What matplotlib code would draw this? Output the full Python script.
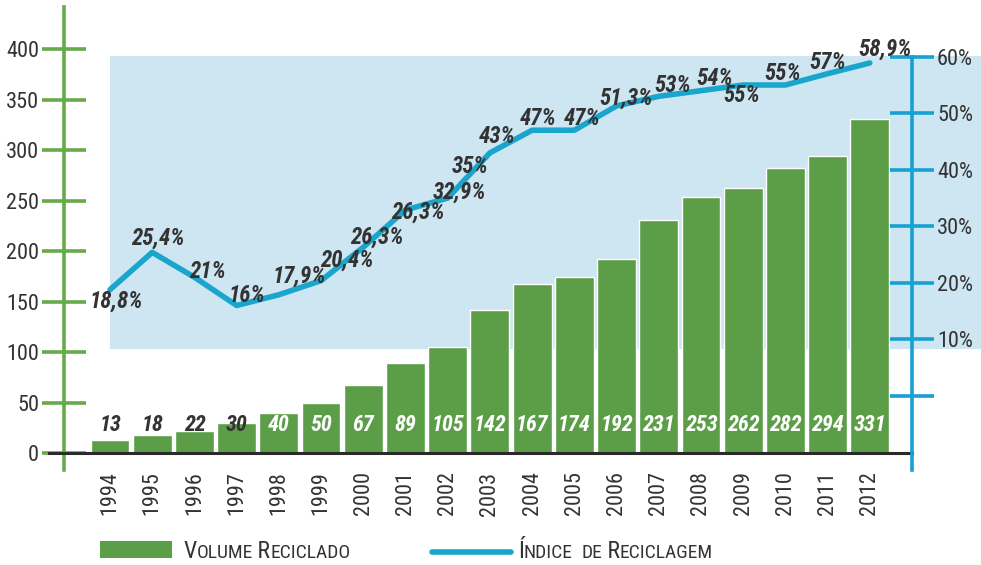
import matplotlib
matplotlib.use("Agg")
import matplotlib.pyplot as plt
from matplotlib.patches import Rectangle
from matplotlib.lines import Line2D
from matplotlib import font_manager
from itertools import groupby

# condensed face if present, otherwise a plain sans
_names = {f.name for f in font_manager.fontManager.ttflist}
FONT = next((n for n in ["Roboto Condensed", "Barlow Condensed", "Archivo Narrow"] if n in _names),
            "DejaVu Sans")
plt.rcParams["font.family"] = [FONT, "DejaVu Sans"]

years = [str(y) for y in range(1994, 2013)]
volume = [13, 18, 22, 30, 40, 50, 67, 89, 105, 142, 167, 174, 192, 231, 253, 262, 282, 294, 331]
index_pct = [18.8, 25.4, 21, 16, 17.9, 20.4, 26.3, 32.9, 35, 43, 47, 47, 51.3, 53, 54, 55, 55, 57, 58.9]

# percentage labels as printed along the line, and the point each one sits next to
pct_labels = ["18,8%", "25,4%", "21%", "16%", "17,9%", "20,4%", "26,3%", "26,3%", "32,9%", "35%",
              "43%", "47%", "47%", "51,3%", "53%", "54%", "55%", "55%", "57%", "58,9%"]
label_at = [0, 1, 2, 3, 4, 5, 6, 7, 8, 8, 9, 10, 11, 12, 13, 14, 15, 16, 17, 18]
label_off = [(6, -12), (5, 14), (13, 6), (10, 10), (20, 18), (26, 20), (13, 10), (12, -2), (12, 6), (22, 32),
             (7, 16), (6, 12), (8, 12), (10, 8), (14, 11), (14, 12), (-1, -10), (-3, 12), (0, 11), (15, 14)]

left_ticks = [0, 50, 100, 150, 200, 250, 300, 350, 400]
right_ticks = [0, 10, 20, 30, 40, 50, 60]

GREEN = "#5c9e48"
GREEN_AX = "#66aa4c"
BLUE = "#1aa6cc"
BLUE_AX = "#17a0d2"
SHADE = "#cde6f2"
TEXT = "#333333"

fig = plt.figure(figsize=(9.81, 5.65), dpi=100, facecolor="white")
ax = fig.add_axes([64 / 981, 1 - 470 / 565, (912 - 64) / 981, (470 - 7) / 565])
ax2 = ax.twinx()
ax.set_zorder(1)
ax2.set_zorder(2)
ax.patch.set_visible(False)
ax2.patch.set_visible(False)

x = list(range(len(years)))
ax.set_xlim(-1.09, 19.0)
ax.set_ylim(-16.8, 441.6)
ax2.set_ylim(-13.1, 68.8)

# light blue panel behind the line, running past the right axis
ax.add_patch(Rectangle((0, 103), 30, 290, facecolor=SHADE, edgecolor="none",
                       zorder=0, clip_on=False))

ax.bar(x, volume, width=0.92, color=GREEN, edgecolor="white", linewidth=1.0, zorder=2)
for i, v in enumerate(volume):
    ax.text(i, 28, str(v), ha="center", va="center", fontsize=16, fontweight="bold",
            fontstyle="italic", color=TEXT if v < 35 else "white", zorder=4)

# baseline
ax.plot([-1.45, 19.0], [0, 0], color="#2a2a2a", lw=2.2, clip_on=False, zorder=3)

# left axis
for s in ["top", "right", "bottom"]:
    ax.spines[s].set_visible(False)
ax.spines["left"].set_color(GREEN_AX)
ax.spines["left"].set_linewidth(2.6)
ax.set_yticks(left_ticks)
ax.tick_params(axis="y", direction="inout", length=32, width=2.6, color=GREEN_AX,
               labelsize=16, labelcolor=TEXT, pad=2)
ax.set_xticks(x)
ax.set_xticklabels(years, rotation=90, fontsize=16, color=TEXT)
ax.tick_params(axis="x", length=0, pad=1)

# right axis
for s in ["top", "left", "bottom"]:
    ax2.spines[s].set_visible(False)
ax2.spines["right"].set_color(BLUE_AX)
ax2.spines["right"].set_linewidth(2.6)
ax2.spines["right"].set_bounds(-13.1, 60)
ax2.set_yticks(right_ticks)
ax2.set_yticklabels(["" if t == 0 else f"{t}%" for t in right_ticks])
ax2.tick_params(axis="y", direction="inout", length=32, width=2.6, color=BLUE_AX,
                labelsize=16, labelcolor=TEXT, pad=2)

ax2.plot(x, index_pct, color=BLUE, lw=4, solid_joinstyle="round", solid_capstyle="round", zorder=3)
for txt, k, (dx, dy) in zip(pct_labels, label_at, label_off):
    ax2.annotate(txt, (x[k], index_pct[k]), xytext=(dx, dy), textcoords="offset pixels",
                 ha="center", va="center", fontsize=16.5, fontweight="bold", fontstyle="italic",
                 color=TEXT, zorder=5)


def small_caps(x0, y0, text, big=17, small=14):
    """Write text in small caps starting at figure pixel (x0, y0)."""
    r = fig.canvas.get_renderer()
    xp = x0
    for is_upper, chars in groupby(text, key=lambda c: c.isupper() or not c.isalpha()):
        piece = "".join(chars).upper()
        t = fig.text(xp / 981, 1 - y0 / 565, piece, fontsize=big if is_upper else small,
                     color=TEXT, ha="left", va="baseline")
        xp = t.get_window_extent(r).x1
        if piece.endswith(" "):
            xp += 3


fig.add_artist(Rectangle((100 / 981, 1 - 558 / 565), 72 / 981, 17 / 565,
                         facecolor=GREEN, edgecolor="none", transform=fig.transFigure))
small_caps(183, 558, "Volume Reciclado")
fig.add_artist(Line2D([432 / 981, 511 / 981], [1 - 552 / 565] * 2, color=BLUE, lw=4,
                      solid_capstyle="round", transform=fig.transFigure))
small_caps(518, 558, "Índice de Reciclagem")

fig.savefig("out.png", dpi=100, facecolor="white")
